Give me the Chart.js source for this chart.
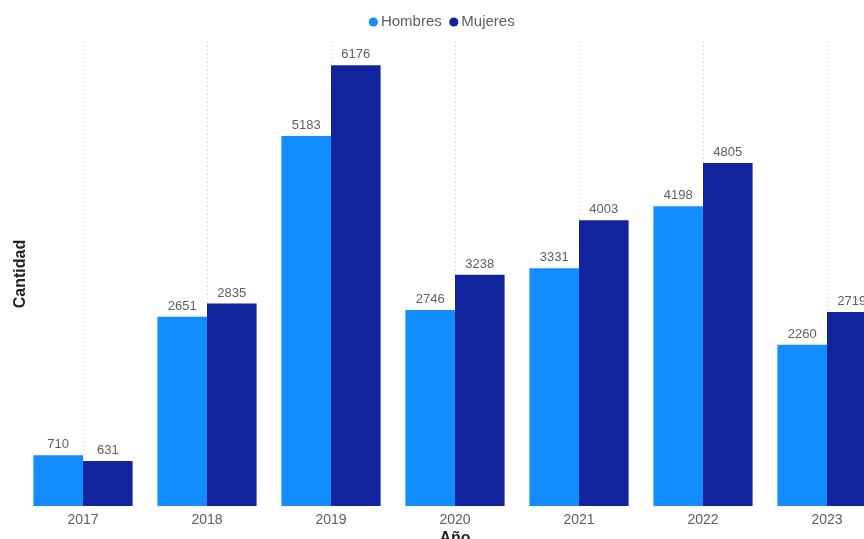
<!DOCTYPE html>
<html>
<head>
<meta charset="utf-8">
<script src="https://cdn.jsdelivr.net/npm/chart.js@4.4.1/dist/chart.umd.min.js"></script>
<style>
  body { margin: 0; overflow: hidden; background: #fff; }
  #wrap { position: absolute; left: 0; top: 0; width: 900px; height: 566px; }
</style>
</head>
<body>
<div id="wrap"><canvas id="barchart"></canvas></div>
<script>
'use strict';
var years = ['2017', '2018', '2019', '2020', '2021', '2022', '2023'];
var hombres = [710, 2651, 5183, 2746, 3331, 4198, 2260];
var mujeres = [631, 2835, 6176, 3238, 4003, 4805, 2719];
var seriesNames = ['Hombres', 'Mujeres'];
var yMax = 6500;

var textGray = '#605E5C';
var fontName = '"Liberation Sans", Arial, sans-serif';

//writes the value above every bar
var barValues = {
  id: 'barValues',
  afterDatasetsDraw: function(chart) {
    var ctx = chart.ctx;
    ctx.save();
    ctx.font = '13px ' + fontName;
    ctx.fillStyle = textGray;
    ctx.textAlign = 'center';
    ctx.textBaseline = 'bottom';
    chart.data.datasets.forEach(function(ds, i) {
      var meta = chart.getDatasetMeta(i);
      meta.data.forEach(function(bar, idx) {
        ctx.fillText(ds.data[idx], bar.x, bar.y - 4);
      });
    });
    ctx.restore();
  }
};

//a bit more room under the legend
var legendGap = {
  id: 'legendGap',
  beforeInit: function(chart) {
    var fit = chart.legend.fit;
    chart.legend.fit = function() {
      fit.bind(chart.legend)();
      this.height += 2.5;
    };
  }
};

var ctx = document.getElementById('barchart');
var myChart = new Chart(ctx, {
  type: 'bar',
  data: {
    labels: years,
    datasets: [{
      label: seriesNames[0],
      data: hombres,
      backgroundColor: '#118DFF'
    }, {
      label: seriesNames[1],
      data: mujeres,
      backgroundColor: '#12239E'
    }]
  },
  options: {
    responsive: true,
    maintainAspectRatio: false,
    animation: false,
    datasets: {
      bar: { categoryPercentage: 0.8, barPercentage: 1.0 }
    },
    layout: {
      padding: { left: -1, right: 11, top: 2.5, bottom: 9 }
    },
    plugins: {
      tooltip: { enabled: false },
      legend: {
        position: 'top',
        labels: {
          usePointStyle: true,
          pointStyle: 'circle',
          boxWidth: 0.1,
          boxHeight: 6.5,
          padding: 12,
          color: textGray,
          font: { size: 15, family: fontName }
        }
      }
    },
    scales: {
      x: {
        grid: {
          offset: false,
          color: '#C8C6C4',
          lineWidth: 1,
          drawTicks: false
        },
        border: { display: false, dash: [1, 3] },
        ticks: {
          color: textGray,
          padding: 6,
          font: { size: 14, family: fontName }
        },
        title: {
          display: true,
          text: 'Año',
          color: '#252423',
          padding: { top: -6, bottom: 9 },
          font: { size: 16, weight: 'bold', family: fontName }
        }
      },
      y: {
        min: 0,
        max: yMax,
        grid: { display: false },
        border: { display: false },
        ticks: { display: false },
        title: {
          display: true,
          text: 'Cantidad',
          color: '#252423',
          padding: { top: 12, bottom: 0 },
          font: { size: 16, weight: 'bold', family: fontName }
        },
        afterFit: function(scale) {
          scale.width = 22;
        }
      }
    }
  },
  plugins: [barValues, legendGap]
});
</script>
</body>
</html>
